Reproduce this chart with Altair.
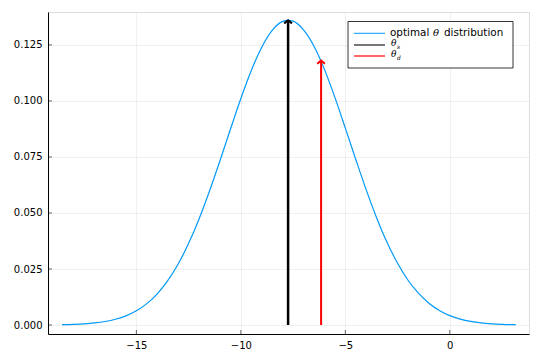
import altair as alt
import pandas as pd

# Curve points
xs = [-18.56, -18.0, -17.5, -17.0, -16.5, -16.0, -15.5, -15.0, -14.5, -14.0, -13.5, -13.0,
      -12.5, -12.0, -11.5, -11.0, -10.5, -10.0, -9.5, -9.0, -8.5, -8.0, -7.74, -7.5,
      -7.0, -6.5, -6.0, -5.5, -5.0, -4.5, -4.0, -3.5, -3.0, -2.5, -2.0, -1.5, -1.0,
      -0.5, 0.0, 0.5, 1.0, 1.5, 2.0, 2.5, 3.0, 3.16]
ys = [0.00015, 0.00030, 0.00054, 0.00093, 0.00157, 0.00258, 0.00411, 0.00636, 0.00955,
      0.01394, 0.01978, 0.02724, 0.03645, 0.04736, 0.05980, 0.07333, 0.08735, 0.1011,
      0.1136, 0.1240, 0.1315, 0.1355, 0.1360, 0.1356, 0.1317, 0.1244, 0.1141, 0.1016,
      0.0879, 0.0739, 0.0603, 0.0478, 0.0368, 0.0276, 0.0200, 0.0142, 0.00971, 0.00646,
      0.00418, 0.00263, 0.00160, 0.00095, 0.00055, 0.00031, 0.00017, 0.00014]

arrow_names = ["θs", "θd"]
arrow_x = [-7.74, -6.16]
arrow_top = [0.1360, 0.1180]
arrow_colors = ["#000000", "#ff0000"]

x_ticks = [-15, -10, -5, 0]
y_ticks = [0.0, 0.025, 0.05, 0.075, 0.1, 0.125]

XDOM = [-19.23, 3.79]
YDOM = [-0.0040, 0.1397]
W, H = 481, 322
FONT = "DejaVu Sans"

curve = pd.DataFrame({"x": xs, "y": ys})
arrows = pd.DataFrame({"name": arrow_names, "x": arrow_x, "y0": [0, 0], "y1": arrow_top,
                       "c": arrow_colors})

xsc = alt.Scale(domain=XDOM, nice=False, zero=False)
ysc = alt.Scale(domain=YDOM, nice=False, zero=False)

xaxis = alt.Axis(values=x_ticks, title=None, grid=True, gridColor="#000000", gridOpacity=0.1,
                 gridWidth=0.6, ticks=False, tickSize=0, labelPadding=6, domainColor="#000000",
                 domainWidth=1, labelFont=FONT, labelFontSize=10, labelColor="#000000")
yaxis = alt.Axis(values=y_ticks, format=".3f", title=None, grid=True, gridColor="#000000",
                 gridOpacity=0.1, gridWidth=0.6, ticks=False, tickSize=0, labelPadding=6,
                 domainColor="#000000", domainWidth=1, labelFont=FONT, labelFontSize=10,
                 labelColor="#000000")

line = alt.Chart(curve).mark_line(color="#009AFA", strokeWidth=1.2, clip=True,
                                  interpolate="monotone").encode(
    x=alt.X("x:Q", scale=xsc, axis=xaxis),
    y=alt.Y("y:Q", scale=ysc, axis=yaxis),
)

shafts = alt.Chart(arrows).mark_rule().encode(
    x=alt.X("x:Q", scale=xsc),
    y=alt.Y("y0:Q", scale=ysc),
    y2="y1:Q",
    color=alt.Color("c:N", scale=None),
    strokeWidth=alt.condition(alt.datum.name == "θs", alt.value(2.5), alt.value(2)),
)

heads = alt.Chart(arrows).mark_point(shape="M-1,0.8L0,0L1,0.8", filled=False, size=60,
                                     strokeWidth=2, opacity=1).encode(
    x=alt.X("x:Q", scale=xsc),
    y=alt.Y("y1:Q", scale=ysc),
    color=alt.Color("c:N", scale=None),
)

# inner tick marks
xt = pd.DataFrame({"v": x_ticks})
yt = pd.DataFrame({"v": y_ticks})
xtm = alt.Chart(xt).mark_rule(color="#000000", strokeWidth=0.6).encode(
    x=alt.X("v:Q", scale=xsc), y=alt.value(H), y2=alt.value(H - 4))
ytm = alt.Chart(yt).mark_rule(color="#000000", strokeWidth=0.6).encode(
    y=alt.Y("v:Q", scale=ysc), x=alt.value(0), x2=alt.value(4))

# legend
lg = pd.DataFrame({"k": [0]})
box = alt.Chart(lg).mark_rect(fill="#ffffff", stroke="#000000", strokeWidth=0.8).encode(
    x=alt.value(300), x2=alt.value(465), y=alt.value(9.5), y2=alt.value(56))
leg_lines = []
for yy, col, sw in [(21.3, "#009AFA", 1.0), (33, "#777777", 2), (44, "#ff0000", 1.2)]:
    leg_lines.append(alt.Chart(lg).mark_rule(color=col, strokeWidth=sw).encode(
        x=alt.value(306), x2=alt.value(337), y=alt.value(yy)))
t1a = alt.Chart(lg).mark_text(text="optimal", align="left", baseline="middle",
                              font=FONT, fontSize=10.4, color="#000000").encode(
    x=alt.value(342), y=alt.value(21))
t1b = alt.Chart(lg).mark_text(text="θ", align="left", baseline="middle", font="DejaVu Serif",
                              fontStyle="italic", fontSize=10, color="#000000").encode(
    x=alt.value(385), y=alt.value(21))
t1c = alt.Chart(lg).mark_text(text="distribution", align="left", baseline="middle",
                              font=FONT, fontSize=10.4, color="#000000").encode(
    x=alt.value(396), y=alt.value(21))
t2 = alt.Chart(lg).mark_text(text="θ", align="left", baseline="middle", font="DejaVu Serif",
                             fontStyle="italic", fontSize=9, color="#000000").encode(
    x=alt.value(343), y=alt.value(31))
t2s = alt.Chart(lg).mark_text(text="s", align="left", baseline="middle", font="DejaVu Serif",
                              fontStyle="italic", fontSize=6, color="#000000").encode(
    x=alt.value(349), y=alt.value(35))
t3 = alt.Chart(lg).mark_text(text="θ", align="left", baseline="middle", font="DejaVu Serif",
                             fontStyle="italic", fontSize=9, color="#000000").encode(
    x=alt.value(343), y=alt.value(42))
t3s = alt.Chart(lg).mark_text(text="d", align="left", baseline="middle", font="DejaVu Serif",
                              fontStyle="italic", fontSize=6, color="#000000").encode(
    x=alt.value(349), y=alt.value(46))

chart = alt.layer(line, shafts, heads, xtm, ytm, box, *leg_lines, t1a, t1b, t1c,
                  t2, t2s, t3, t3s).properties(
    width=W, height=H,
    autosize=alt.AutoSizeParams(type="none"),
    padding={"left": 40, "top": 4, "right": 3, "bottom": 18},
).configure_view(stroke=None).configure(background="#ffffff")

chart.save("out.html", embed_options={"renderer": "svg", "actions": False})
